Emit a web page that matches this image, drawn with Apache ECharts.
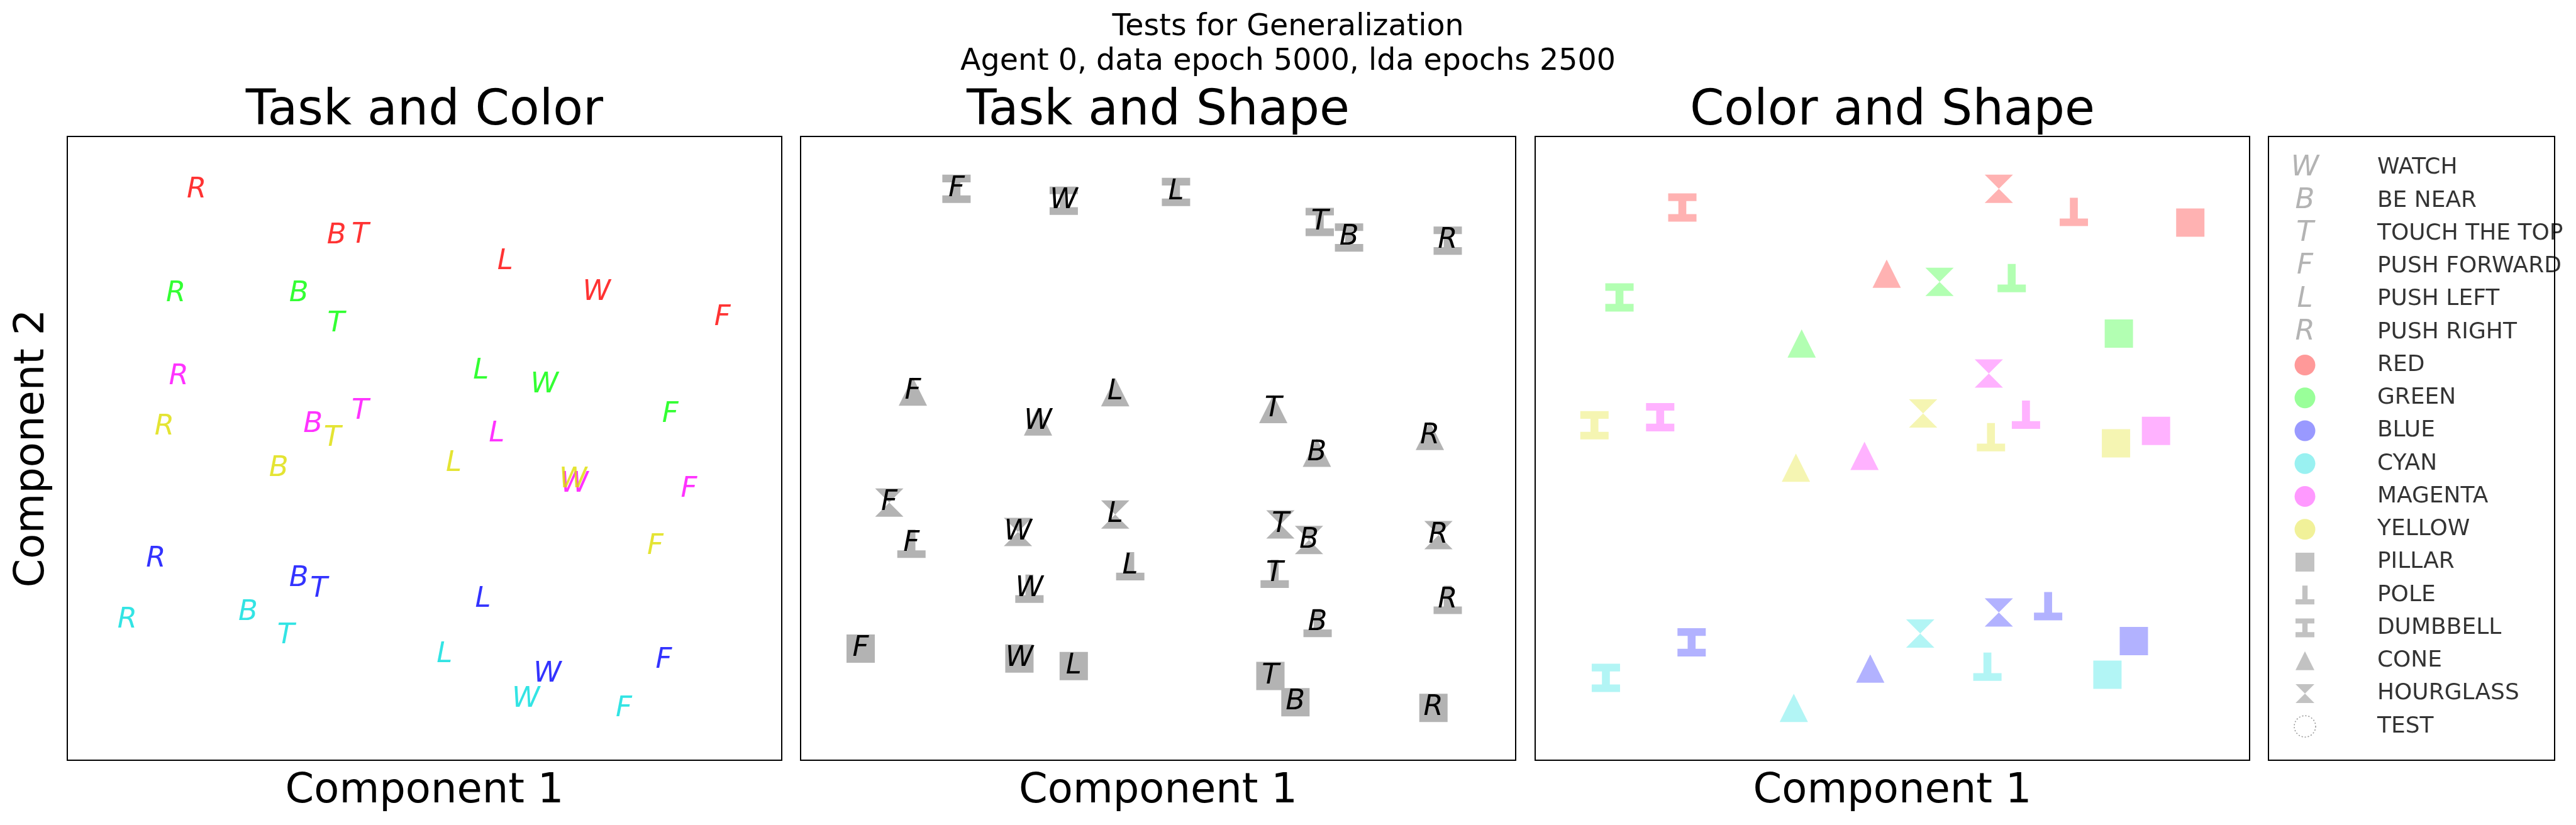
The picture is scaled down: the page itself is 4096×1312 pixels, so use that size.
<!DOCTYPE html>
<html>
<head>
<meta charset="utf-8">
<script src="https://cdn.jsdelivr.net/npm/echarts@6/dist/echarts.min.js"></script>
<style>
html,body{margin:0;padding:0;background:#fff;}
#chart{width:4096px;height:1312px;}
</style>
</head>
<body>
<div id="chart"></div>
<script>
// ---------------- DATA ----------------
const TASK_LETTERS = ['W', 'B', 'T', 'F', 'L', 'R'];
const TASK_NAMES = ['WATCH', 'BE NEAR', 'TOUCH THE TOP', 'PUSH FORWARD', 'PUSH LEFT', 'PUSH RIGHT'];
const COLOR_NAMES = ['RED', 'GREEN', 'BLUE', 'CYAN', 'MAGENTA', 'YELLOW'];
const SHAPE_NAMES = ['PILLAR', 'POLE', 'DUMBBELL', 'CONE', 'HOURGLASS'];

// Panel 1 "Task and Color": [component1, component2] per task W,B,T,F,L,R
const tcRed     = [[74.1, 75.0], [37.7, 84.0], [41.0, 84.1], [91.7, 70.9], [61.3, 79.9], [18.1, 91.4]];
const tcGreen   = [[66.8, 60.2], [32.4, 74.8], [37.6, 69.9], [84.4, 55.4], [57.9, 62.4], [15.2, 74.8]];
const tcBlue    = [[67.2, 13.8], [32.4, 29.1], [35.2, 27.4], [83.5, 16.0], [58.2, 25.8], [12.4, 32.2]];
const tcCyan    = [[64.2,  9.7], [25.3, 23.7], [30.6, 19.9], [77.9,  8.2], [52.8, 16.9], [ 8.4, 22.4]];
const tcMagenta = [[71.0, 44.2], [34.4, 53.8], [41.0, 55.9], [87.0, 43.4], [60.1, 52.3], [15.6, 61.5]];
const tcYellow  = [[70.8, 44.9], [29.6, 46.7], [37.1, 51.6], [82.3, 34.2], [54.1, 47.5], [13.6, 53.4]];

// Panel 2 "Task and Shape": per shape, tasks W,B,T,F,L,R
const tsPillar    = [[30.6, 16.3], [69.2,  9.3], [65.7, 13.5], [ 8.4, 17.9], [38.2, 15.1], [88.5,  8.4]];
const tsPole      = [[32.0, 27.5], [72.3, 22.0], [66.3, 29.9], [15.5, 34.7], [46.1, 31.1], [90.5, 25.7]];
const tsDumbbell  = [[36.8, 89.7], [76.7, 83.8], [72.6, 86.3], [21.8, 91.6], [52.5, 91.1], [90.5, 83.3]];
const tsCone      = [[33.2, 54.3], [72.2, 49.3], [66.1, 56.3], [15.7, 59.1], [44.0, 59.0], [88.0, 52.0]];
const tsHourglass = [[30.4, 36.6], [71.1, 35.3], [67.1, 37.8], [12.4, 41.3], [44.0, 39.4], [89.2, 36.1]];

// Panel 3 "Color and Shape": per color, shapes PILLAR,POLE,DUMBBELL,CONE,HOURGLASS
const csRed     = [[91.7, 86.2], [75.4, 87.9], [20.6, 88.6], [49.2, 78.0], [64.9, 91.6]];
const csGreen   = [[81.7, 68.4], [66.7, 77.3], [11.8, 74.2], [37.3, 66.8], [56.6, 76.7]];
const csBlue    = [[83.8, 19.1], [71.8, 24.7], [21.9, 18.9], [46.9, 14.7], [64.9, 23.7]];
const csCyan    = [[80.1, 13.7], [63.3, 15.0], [ 9.9, 13.2], [36.2,  8.4], [53.9, 20.3]];
const csMagenta = [[86.9, 52.8], [68.7, 55.4], [17.5, 55.0], [46.1, 48.8], [63.5, 62.0]];
const csYellow  = [[81.3, 50.8], [63.8, 51.8], [ 8.3, 53.7], [36.5, 46.9], [54.3, 55.6]];

// ---------------- STYLE ----------------
const FONT = 'DejaVu Sans';
const BASE_COLORS = {RED: '#ff0000', GREEN: '#00ff00', BLUE: '#0000ff', CYAN: '#00dddd', MAGENTA: '#ff00ff', YELLOW: '#dddd00'};
const SHAPE_PATHS = {
  PILLAR: 'path://M0,0L100,0L100,100L0,100Z',
  POLE: 'path://M36,0L64,0L64,73L100,73L100,100L0,100L0,73L36,73Z',
  DUMBBELL: 'path://M0,0L100,0L100,27L64,27L64,73L100,73L100,100L0,100L0,73L36,73L36,27L0,27Z',
  CONE: 'path://M50,0L100,100L0,100Z',
  HOURGLASS: 'path://M0,0L100,0L50,50L100,100L0,100L50,50Z'
};
const GRAY = '#b3b3b3';

const tcData = {RED: tcRed, GREEN: tcGreen, BLUE: tcBlue, CYAN: tcCyan, MAGENTA: tcMagenta, YELLOW: tcYellow};
const tsData = {PILLAR: tsPillar, POLE: tsPole, DUMBBELL: tsDumbbell, CONE: tsCone, HOURGLASS: tsHourglass};
const csData = {RED: csRed, GREEN: csGreen, BLUE: csBlue, CYAN: csCyan, MAGENTA: csMagenta, YELLOW: csYellow};

// ---------------- LAYOUT ----------------
const PANEL_TOP = 217, PANEL_H = 992;
const panels = [
  {left: 107, width: 1136},
  {left: 1273, width: 1137},
  {left: 2441, width: 1136},
  {left: 3607, width: 455}
];
const grids = panels.map(p => ({
  left: p.left, top: PANEL_TOP, width: p.width, height: PANEL_H,
  show: true, borderColor: '#000', borderWidth: 2, backgroundColor: '#fff', containLabel: false
}));
const hiddenAxis = {show: true, axisLine: {show: false}, axisTick: {show: false}, axisLabel: {show: false}, splitLine: {show: false}};
const xAxes = [0, 1, 2].map(i => Object.assign({type: 'value', gridIndex: i, min: 0, max: 100}, hiddenAxis));
const yAxes = [0, 1, 2].map(i => Object.assign({type: 'value', gridIndex: i, min: 0, max: 100}, hiddenAxis));
// legend grid: rows are indices (0 at top)
xAxes.push(Object.assign({type: 'value', gridIndex: 3, min: 0, max: 1}, hiddenAxis));
yAxes.push(Object.assign({type: 'value', gridIndex: 3, min: -0.957, max: 18.03, inverse: true}, hiddenAxis));

const letterLabel = (color) => ({
  show: true, position: 'inside', formatter: '{b}', color: color,
  fontSize: 45, fontStyle: 'italic', fontFamily: FONT
});

const series = [];
// Panel 1
COLOR_NAMES.forEach(c => {
  series.push({
    type: 'scatter', xAxisIndex: 0, yAxisIndex: 0, silent: true,
    symbol: 'circle', symbolSize: 1, itemStyle: {color: 'rgba(0,0,0,0)'},
    data: tcData[c].map((p, i) => ({value: p, name: TASK_LETTERS[i]})),
    label: letterLabel(BASE_COLORS[c])
  });
});
// Panel 2
SHAPE_NAMES.forEach(s => {
  series.push({
    type: 'scatter', xAxisIndex: 1, yAxisIndex: 1, silent: true,
    symbol: SHAPE_PATHS[s], symbolSize: [45, 45], itemStyle: {color: GRAY, opacity: 1},
    data: tsData[s].map((p, i) => ({value: p, name: TASK_LETTERS[i]})),
    label: letterLabel('#000')
  });
});
// Panel 3
COLOR_NAMES.forEach(c => {
  series.push({
    type: 'scatter', xAxisIndex: 2, yAxisIndex: 2, silent: true,
    symbolSize: [45, 45], itemStyle: {color: BASE_COLORS[c], opacity: 0.3},
    data: csData[c].map((p, j) => ({value: p, symbol: SHAPE_PATHS[SHAPE_NAMES[j]]}))
  });
});

// Legend (grid 3)
const MX = 0.1275, TX = 0.38;
const legendRows = [].concat(TASK_NAMES, COLOR_NAMES, SHAPE_NAMES, ['TEST']);
series.push({
  type: 'scatter', xAxisIndex: 3, yAxisIndex: 3, silent: true,
  symbol: 'circle', symbolSize: 1, itemStyle: {color: 'rgba(0,0,0,0)'},
  data: TASK_LETTERS.map((l, i) => ({value: [MX, i], name: l})),
  label: letterLabel('#a0a0a0')
});
series.push({
  type: 'scatter', xAxisIndex: 3, yAxisIndex: 3, silent: true,
  symbol: 'circle', symbolSize: 33,
  data: COLOR_NAMES.map((c, i) => ({value: [MX, 6 + i], itemStyle: {color: BASE_COLORS[c], opacity: 0.4}}))
});
series.push({
  type: 'scatter', xAxisIndex: 3, yAxisIndex: 3, silent: true,
  symbolSize: 30, itemStyle: {color: GRAY},
  data: SHAPE_NAMES.map((s, i) => ({value: [MX, 12 + i], symbol: SHAPE_PATHS[s]}))
});
series.push({
  type: 'scatter', xAxisIndex: 3, yAxisIndex: 3, silent: true,
  symbol: 'circle', symbolSize: 34,
  itemStyle: {color: 'rgba(0,0,0,0)', borderColor: '#808080', borderWidth: 1.6, borderType: [2, 3]},
  data: [{value: [MX, 17]}]
});
series.push({
  type: 'scatter', xAxisIndex: 3, yAxisIndex: 3, silent: true,
  symbol: 'circle', symbolSize: 1, itemStyle: {color: 'rgba(0,0,0,0)'},
  data: legendRows.map((n, i) => ({value: [TX, i], name: n})),
  label: {show: true, position: 'inside', align: 'left', formatter: '{b}', color: '#000', fontSize: 36, fontFamily: FONT}
});

const txt = (text, x, y, size, rot) => ({
  type: 'text', x: x, y: y, rotation: rot || 0, silent: true, z: 100,
  style: {text: text, fontSize: size, fontFamily: FONT, fill: '#000', align: 'center', verticalAlign: 'middle'}
});
const centers = panels.map(p => p.left + p.width / 2);
const graphic = [
  txt('Tests for Generalization', 2048, 44, 47.5),
  txt('Agent 0, data epoch 5000, lda epochs 2500', 2048, 99, 47.5),
  txt('Task and Color', centers[0], 177.5, 78),
  txt('Task and Shape', centers[1], 177.5, 78),
  txt('Color and Shape', centers[2], 177.5, 78),
  txt('Component 1', centers[0], 1258.5, 65.5),
  txt('Component 1', centers[1], 1258.5, 65.5),
  txt('Component 1', centers[2], 1258.5, 65.5),
  txt('Component 2', 52, PANEL_TOP + PANEL_H / 2, 65.5, Math.PI / 2)
];

const chart = echarts.init(document.getElementById('chart'), null, {renderer: 'canvas'});
chart.setOption({
  backgroundColor: '#fff',
  animation: false,
  grid: grids,
  xAxis: xAxes,
  yAxis: yAxes,
  series: series,
  graphic: graphic
});
</script>
</body>
</html>
